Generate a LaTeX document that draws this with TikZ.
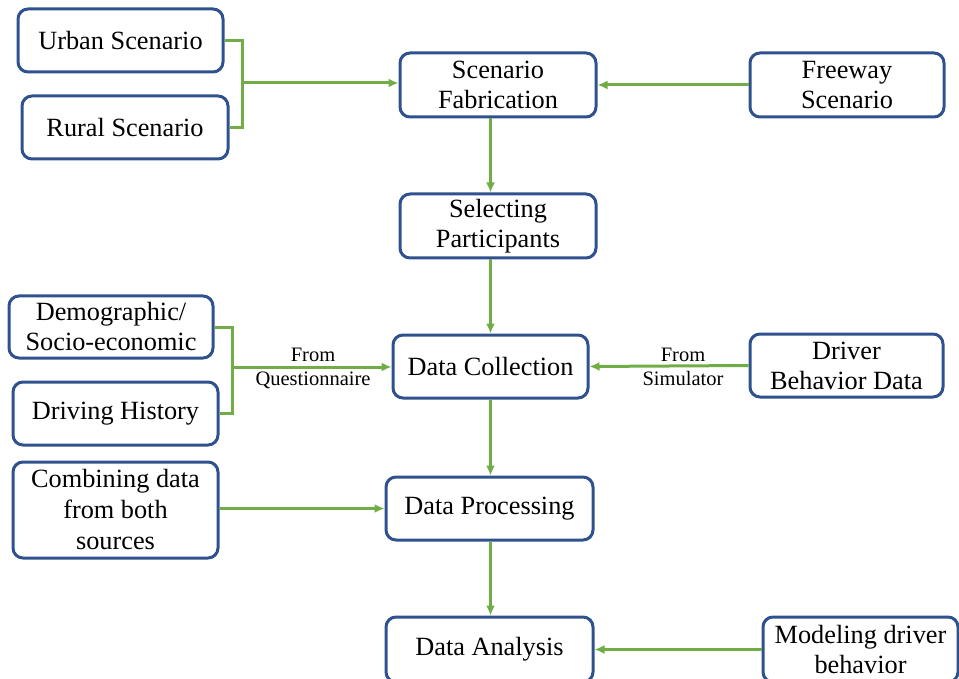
\documentclass[tikz,border=0pt]{standalone}
\usepackage{fontspec}
\setmainfont{Liberation Serif}
\usetikzlibrary{arrows.meta}
\definecolor{boxblue}{HTML}{2F528F}
\definecolor{linegreen}{HTML}{70AD47}
\tikzset{
  blk/.style={draw=boxblue, line width=3pt, rounded corners=10pt, align=center,
    font=\fontsize{26.3}{30}\selectfont, inner sep=0pt},
  lnk/.style={draw=linegreen, line width=3pt},
  arr/.style={lnk, -{Latex[length=10pt,width=9pt]}},
  lbl/.style={font=\fontsize{20.5}{24}\selectfont, align=center, inner sep=0pt}
}

\begin{document}
\begin{tikzpicture}[x=1pt,y=-1pt]
		%%%%% START %%%%%
		\clip (0,0) rectangle (959,679);
		
		% boxes
		\node[blk, minimum width=205pt, minimum height=63pt] (urban) at (120.5,40.5) {Urban Scenario};
		\node[blk, minimum width=206pt, minimum height=63pt] (rural) at (125,127.5) {Rural Scenario};
		\node[blk, minimum width=196pt, minimum height=64pt] (fab) at (498,85) {Scenario\\Fabrication};
		\node[blk, minimum width=194pt, minimum height=64pt] (freeway) at (847,85) {Freeway\\Scenario};
		\node[blk, minimum width=196pt, minimum height=64pt] (select) at (498,226) {Selecting\\Participants};
		\node[blk, minimum width=204pt, minimum height=62pt] (demo) at (111,327) {Demographic/\\Socio-economic};
		\node[blk, minimum width=205pt, minimum height=63pt] (history) at (115.5,413.5) {Driving History};
		\node[blk, minimum width=195pt, minimum height=63pt] (collect) at (490.5,366.5) {Data Collection};
		\node[blk, minimum width=193pt, minimum height=63pt] (driver) at (846.5,365.5) {Driver\\Behavior Data};
		\node[blk, minimum width=205pt, minimum height=96pt, font=\fontsize{26.3}{31}\selectfont] (combine) at (115.5,510) {Combining data\\from both\\sources};
		\node[blk, minimum width=207pt, minimum height=63pt] (process) at (489.5,508.5) {Data Processing};
		\node[blk, minimum width=207pt, minimum height=65pt] (analysis) at (489.5,649.5) {Data Analysis};
		\node[blk, minimum width=195pt, minimum height=65pt] (modeling) at (860.5,649.5) {Modeling driver\\behavior};
		
		% scenario inputs
		\coordinate (jA) at (242,83);
		\draw[lnk] (urban.east) -| (jA) |- (rural.east);
		\draw[arr] (jA) -- (fab.west |- jA);
		\draw[arr] (freeway.west) -- (fab.east);
		
		% main column
		\draw[arr] (fab.south -| collect) -- (select.north -| collect);
		\draw[arr] (select.south -| collect) -- (collect.north);
		\draw[arr] (collect.south) -- (process.north -| collect);
		\draw[arr] (process.south -| collect) -- (analysis.north -| collect);
		
		% data sources
		\coordinate (jB) at (232,367);
		\draw[lnk] (demo.east) -| (jB) |- (history.east);
		\draw[arr] (jB) -- (collect.west |- jB);
		\node[lbl] (quest) at (313,368) {From\\Questionnaire};
		\draw[arr] (driver.west) -- (collect.east);
		\node[lbl] (sim) at (683,366.5) {From\\Simulator};
		
		\draw[arr] (combine.east |- process.west) -- (process.west);
		\draw[arr] (modeling.west) -- (analysis.east);
		
		%%%%% END %%%%%
\end{tikzpicture}
\end{document}
